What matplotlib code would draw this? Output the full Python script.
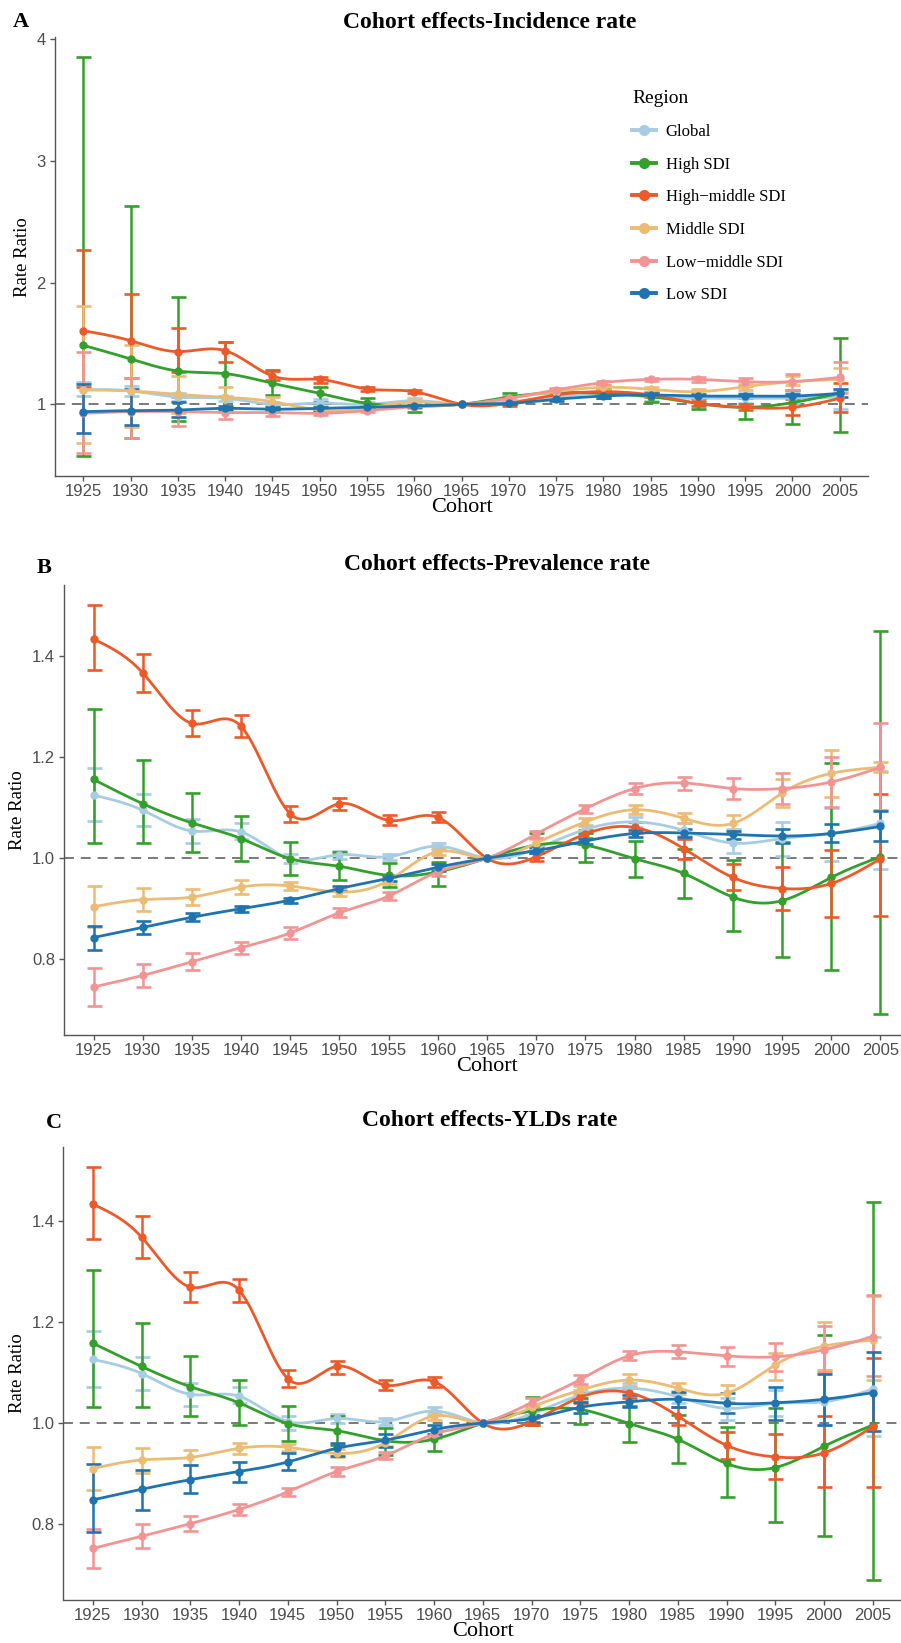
import numpy as np
import matplotlib
matplotlib.use("Agg")
import matplotlib.pyplot as plt
from matplotlib.lines import Line2D

# ukuran gambar dalam piksel
W, H = 901, 1643

cohorts = [1925, 1930, 1935, 1940, 1945, 1950, 1955, 1960, 1965,
           1970, 1975, 1980, 1985, 1990, 1995, 2000, 2005]
regions = ["Global", "High SDI", "High\u2212middle SDI", "Middle SDI",
           "Low\u2212middle SDI", "Low SDI"]
colors = ["#a6cde2", "#33a02c", "#ec5a2a", "#ecbb74", "#f29494", "#1f74b0"]

# --- A: Incidence rate ---
inc_global = [1.12, 1.11, 1.06, 1.05, 1.00, 1.01, 1.00, 1.03, 1.0, 1.02, 1.06, 1.09, 1.06, 1.05, 1.05, 1.05, 1.06]
inc_global_lo = [1.07, 1.07, 1.03, 1.03, 0.98, 0.99, 0.98, 1.01, 1.0, 1.00, 1.04, 1.07, 1.03, 1.02, 1.01, 1.01, 0.96]
inc_global_hi = [1.18, 1.15, 1.09, 1.07, 1.02, 1.04, 1.02, 1.05, 1.0, 1.04, 1.08, 1.11, 1.08, 1.08, 1.09, 1.10, 1.13]
inc_high = [1.485, 1.373, 1.274, 1.252, 1.173, 1.09, 1.008, 0.986, 1.0, 1.06, 1.096, 1.09, 1.063, 1.008, 0.975, 1.014, 1.09]
inc_high_lo = [0.575, 0.72, 0.866, 0.97, 1.077, 1.02, 0.967, 0.94, 1.0, 1.014, 1.07, 1.05, 1.02, 0.96, 0.877, 0.838, 0.77]
inc_high_hi = [3.852, 2.627, 1.885, 1.51, 1.282, 1.145, 1.055, 1.03, 1.0, 1.09, 1.12, 1.13, 1.10, 1.05, 1.063, 1.118, 1.548]
inc_hm = [1.605, 1.523, 1.433, 1.441, 1.233, 1.205, 1.126, 1.104, 1.0, 1.008, 1.077, 1.104, 1.077, 1.008, 0.975, 0.975, 1.049]
inc_hm_lo = [1.14, 1.22, 1.263, 1.351, 1.20, 1.178, 1.11, 1.09, 1.0, 0.99, 1.06, 1.09, 1.06, 0.99, 0.95, 0.912, 0.934]
inc_hm_hi = [2.268, 1.904, 1.63, 1.515, 1.277, 1.227, 1.14, 1.12, 1.0, 1.02, 1.09, 1.12, 1.09, 1.03, 1.00, 1.04, 1.173]
inc_mid = [1.118, 1.11, 1.082, 1.058, 1.022, 0.953, 0.967, 1.02, 1.0, 1.049, 1.104, 1.14, 1.123, 1.104, 1.145, 1.186, 1.205]
inc_mid_lo = [0.68, 0.816, 0.926, 0.95, 0.99, 0.94, 0.95, 0.99, 1.0, 1.03, 1.09, 1.12, 1.10, 1.08, 1.12, 1.16, 1.10]
inc_mid_hi = [1.811, 1.488, 1.23, 1.145, 1.06, 0.97, 0.985, 1.04, 1.0, 1.065, 1.12, 1.16, 1.145, 1.13, 1.17, 1.23, 1.30]
inc_lm = [0.926, 0.94, 0.94, 0.932, 0.932, 0.926, 0.948, 0.98, 1.0, 1.049, 1.118, 1.178, 1.205, 1.205, 1.186, 1.186, 1.222]
inc_lm_lo = [0.597, 0.72, 0.822, 0.877, 0.905, 0.91, 0.935, 0.97, 1.0, 1.035, 1.10, 1.16, 1.19, 1.185, 1.15, 1.12, 1.09]
inc_lm_hi = [1.427, 1.219, 1.06, 0.97, 0.955, 0.945, 0.96, 0.99, 1.0, 1.065, 1.135, 1.195, 1.22, 1.225, 1.22, 1.25, 1.351]
inc_low = [0.94, 0.948, 0.953, 0.967, 0.96, 0.967, 0.975, 0.986, 1.0, 1.008, 1.041, 1.068, 1.077, 1.068, 1.068, 1.068, 1.09]
inc_low_lo = [0.762, 0.83, 0.899, 0.95, 0.95, 0.955, 0.965, 0.975, 1.0, 1.0, 1.03, 1.055, 1.065, 1.055, 1.05, 1.05, 1.06]
inc_low_hi = [1.167, 1.13, 1.022, 0.985, 0.975, 0.98, 0.985, 0.995, 1.0, 1.015, 1.05, 1.08, 1.09, 1.082, 1.085, 1.085, 1.13]

# --- B: Prevalence rate ---
prev_global = [1.125, 1.095, 1.054, 1.052, 0.999, 1.007, 1.003, 1.024, 1.0, 1.019, 1.057, 1.072, 1.055, 1.030, 1.039, 1.049, 1.069]
prev_global_lo = [1.074, 1.063, 1.030, 1.039, 0.991, 0.999, 0.997, 1.016, 1.0, 1.01, 1.05, 1.062, 1.045, 1.011, 1.004, 0.995, 0.978]
prev_global_hi = [1.179, 1.127, 1.077, 1.069, 1.009, 1.015, 1.008, 1.030, 1.0, 1.027, 1.065, 1.082, 1.069, 1.057, 1.072, 1.10, 1.173]
prev_high = [1.156, 1.108, 1.07, 1.039, 0.999, 0.984, 0.966, 0.973, 1.0, 1.026, 1.026, 0.999, 0.97, 0.923, 0.916, 0.962, 1.003]
prev_high_lo = [1.030, 1.030, 1.013, 0.995, 0.966, 0.956, 0.943, 0.945, 1.0, 1.015, 0.993, 0.962, 0.922, 0.856, 0.805, 0.778, 0.691]
prev_high_hi = [1.296, 1.194, 1.129, 1.083, 1.032, 1.013, 0.991, 0.993, 1.0, 1.05, 1.049, 1.034, 1.019, 0.996, 1.032, 1.189, 1.45]
prev_hm = [1.434, 1.367, 1.267, 1.261, 1.088, 1.108, 1.075, 1.081, 1.0, 1.003, 1.048, 1.061, 1.019, 0.962, 0.94, 0.95, 0.999]
prev_hm_lo = [1.372, 1.329, 1.242, 1.240, 1.072, 1.096, 1.065, 1.071, 1.0, 0.995, 1.04, 1.05, 0.999, 0.937, 0.898, 0.884, 0.885]
prev_hm_hi = [1.501, 1.405, 1.294, 1.283, 1.103, 1.120, 1.085, 1.091, 1.0, 1.01, 1.056, 1.072, 1.039, 0.988, 0.983, 1.017, 1.127]
prev_mid = [0.904, 0.918, 0.923, 0.943, 0.945, 0.933, 0.956, 1.013, 1.0, 1.030, 1.072, 1.096, 1.079, 1.069, 1.129, 1.168, 1.18]
prev_mid_lo = [0.863, 0.896, 0.907, 0.930, 0.937, 0.926, 0.948, 1.006, 1.0, 1.022, 1.063, 1.087, 1.069, 1.051, 1.102, 1.121, 1.17]
prev_mid_hi = [0.945, 0.942, 0.940, 0.956, 0.953, 0.940, 0.963, 1.020, 1.0, 1.038, 1.080, 1.105, 1.090, 1.086, 1.156, 1.215, 1.19]
prev_lm = [0.745, 0.768, 0.795, 0.823, 0.852, 0.892, 0.925, 0.973, 1.0, 1.048, 1.098, 1.138, 1.149, 1.138, 1.138, 1.151, 1.18]
prev_lm_lo = [0.707, 0.745, 0.778, 0.811, 0.841, 0.883, 0.917, 0.965, 1.0, 1.041, 1.089, 1.128, 1.136, 1.118, 1.107, 1.102, 1.096]
prev_lm_hi = [0.783, 0.790, 0.812, 0.834, 0.863, 0.901, 0.933, 0.981, 1.0, 1.054, 1.105, 1.148, 1.161, 1.158, 1.168, 1.200, 1.268]
prev_low = [0.843, 0.863, 0.883, 0.90, 0.917, 0.94, 0.96, 0.982, 1.0, 1.015, 1.034, 1.049, 1.050, 1.047, 1.044, 1.049, 1.063]
prev_low_lo = [0.819, 0.850, 0.875, 0.893, 0.911, 0.935, 0.955, 0.975, 1.0, 1.01, 1.029, 1.042, 1.043, 1.039, 1.031, 1.032, 1.034]
prev_low_hi = [0.865, 0.875, 0.891, 0.906, 0.922, 0.945, 0.965, 0.988, 1.0, 1.02, 1.039, 1.056, 1.057, 1.054, 1.057, 1.067, 1.094]

# --- C: YLDs rate ---
yld_global = [1.126, 1.098, 1.057, 1.053, 1.003, 1.009, 1.003, 1.024, 1.0, 1.018, 1.055, 1.069, 1.052, 1.029, 1.039, 1.042, 1.067]
yld_global_lo = [1.071, 1.065, 1.034, 1.040, 0.987, 1.0, 0.996, 1.016, 1.0, 1.01, 1.045, 1.058, 1.04, 1.007, 1.013, 0.996, 0.974]
yld_global_hi = [1.183, 1.131, 1.080, 1.072, 1.013, 1.018, 1.010, 1.032, 1.0, 1.026, 1.065, 1.08, 1.064, 1.05, 1.065, 1.105, 1.171]
yld_high = [1.158, 1.112, 1.072, 1.040, 0.999, 0.985, 0.965, 0.968, 1.0, 1.024, 1.027, 0.999, 0.968, 0.920, 0.912, 0.954, 0.996]
yld_high_lo = [1.031, 1.032, 1.014, 0.996, 0.965, 0.956, 0.937, 0.945, 1.0, 0.996, 0.999, 0.963, 0.920, 0.853, 0.805, 0.776, 0.690]
yld_high_hi = [1.302, 1.197, 1.133, 1.085, 1.034, 1.014, 0.991, 0.987, 1.0, 1.052, 1.049, 1.034, 1.016, 0.993, 1.029, 1.174, 1.438]
yld_hm = [1.433, 1.368, 1.269, 1.263, 1.088, 1.112, 1.075, 1.082, 1.0, 1.003, 1.051, 1.060, 1.014, 0.956, 0.933, 0.941, 0.993]
yld_hm_lo = [1.364, 1.326, 1.240, 1.240, 1.072, 1.097, 1.065, 1.072, 1.0, 0.996, 1.040, 1.05, 0.996, 0.928, 0.890, 0.874, 0.874]
yld_hm_hi = [1.506, 1.409, 1.298, 1.285, 1.105, 1.123, 1.086, 1.092, 1.0, 1.013, 1.060, 1.07, 1.032, 0.983, 0.978, 1.013, 1.128]
yld_mid = [0.910, 0.927, 0.932, 0.950, 0.952, 0.940, 0.961, 1.014, 1.0, 1.031, 1.065, 1.085, 1.069, 1.059, 1.115, 1.152, 1.164]
yld_mid_lo = [0.867, 0.902, 0.917, 0.939, 0.945, 0.932, 0.954, 1.006, 1.0, 1.024, 1.057, 1.073, 1.058, 1.042, 1.086, 1.105, 1.085]
yld_mid_hi = [0.952, 0.950, 0.946, 0.961, 0.959, 0.948, 0.968, 1.022, 1.0, 1.038, 1.073, 1.097, 1.080, 1.075, 1.139, 1.199, 1.251]
yld_lm = [0.752, 0.776, 0.801, 0.829, 0.864, 0.904, 0.935, 0.978, 1.0, 1.040, 1.086, 1.133, 1.141, 1.133, 1.131, 1.145, 1.171]
yld_lm_lo = [0.714, 0.752, 0.786, 0.818, 0.855, 0.895, 0.928, 0.970, 1.0, 1.031, 1.077, 1.124, 1.128, 1.113, 1.103, 1.1, 1.093]
yld_lm_hi = [0.791, 0.800, 0.816, 0.839, 0.871, 0.913, 0.942, 0.986, 1.0, 1.049, 1.095, 1.142, 1.154, 1.150, 1.159, 1.191, 1.253]
yld_low = [0.848, 0.869, 0.888, 0.904, 0.923, 0.950, 0.966, 0.987, 1.0, 1.009, 1.031, 1.042, 1.047, 1.039, 1.040, 1.047, 1.060]
yld_low_lo = [0.785, 0.829, 0.861, 0.884, 0.907, 0.935, 0.953, 0.979, 1.0, 1.003, 1.019, 1.031, 1.032, 1.019, 1.007, 0.996, 0.985]
yld_low_hi = [0.919, 0.908, 0.917, 0.923, 0.940, 0.961, 0.978, 0.997, 1.0, 1.015, 1.042, 1.055, 1.062, 1.060, 1.071, 1.097, 1.141]

SERIF = "Liberation Serif"
SANS = "Liberation Sans"


def natural_spline(x, y, n=600):
    # kurva halus (natural cubic spline) yang melewati semua titik
    x = np.asarray(x, float)
    y = np.asarray(y, float)
    k = len(x)
    h = np.diff(x)
    A = np.zeros((k, k))
    b = np.zeros(k)
    A[0, 0] = A[-1, -1] = 1.0
    for i in range(1, k - 1):
        A[i, i - 1] = h[i - 1]
        A[i, i] = 2 * (h[i - 1] + h[i])
        A[i, i + 1] = h[i]
        b[i] = 6 * ((y[i + 1] - y[i]) / h[i] - (y[i] - y[i - 1]) / h[i - 1])
    M = np.linalg.solve(A, b)
    xs = np.linspace(x[0], x[-1], n)
    idx = np.clip(np.searchsorted(x, xs) - 1, 0, k - 2)
    x0, x1 = x[idx], x[idx + 1]
    hh = x1 - x0
    t0, t1 = x1 - xs, xs - x0
    ys = (M[idx] * t0 ** 3 + M[idx + 1] * t1 ** 3) / (6 * hh) \
        + (y[idx] / hh - M[idx] * hh / 6) * t0 \
        + (y[idx + 1] / hh - M[idx + 1] * hh / 6) * t1
    return xs, ys


def px_axes(left, top, right, bottom):
    return [left / W, 1 - bottom / H, (right - left) / W, (bottom - top) / H]


def draw_panel(ax, series, ylim, yticks, ylabels):
    ax.axhline(1, color="#555555", lw=1.1, ls=(0, (6.5, 4.5)), zorder=1)
    x = np.array(cohorts)
    for (v, lo, hi), c in zip(series, colors):
        v, lo, hi = np.array(v), np.array(lo), np.array(hi)
        m = hi > lo
        ax.errorbar(x[m], v[m], yerr=[v[m] - lo[m], hi[m] - v[m]], fmt="none",
                    ecolor=c, elinewidth=1.8, capsize=5.4, capthick=1.9, zorder=2)
        xs, ys = natural_spline(x, v)
        ax.plot(xs, ys, color=c, lw=2.0, zorder=3)
        ax.plot(x, v, "o", color=c, ms=5, zorder=3)
    ax.set_xlim(1922, 2008)
    ax.set_ylim(*ylim)
    ax.set_xticks(cohorts)
    ax.set_xticklabels([str(c) for c in cohorts], fontfamily=SANS, fontsize=12, color="#4d4d4d")
    ax.set_yticks(yticks)
    ax.set_yticklabels(ylabels, fontfamily=SANS, fontsize=12, color="#4d4d4d")
    for s in ["top", "right"]:
        ax.spines[s].set_visible(False)
    for s in ["left", "bottom"]:
        ax.spines[s].set_color("#555555")
        ax.spines[s].set_linewidth(1.0)
    ax.tick_params(axis="both", length=3.5, width=1.0, color="#555555")
    ax.tick_params(axis="x", pad=2.5)
    ax.tick_params(axis="y", pad=3)
    ax.set_xlabel("Cohort", fontfamily=SERIF, fontsize=16, labelpad=-1)
    ax.set_ylabel("Rate Ratio", fontfamily=SERIF, fontsize=13.5, labelpad=4)


fig = plt.figure(figsize=(W / 100, H / 100), dpi=100)

ax_a = fig.add_axes(px_axes(55, 37.3, 868, 476))
draw_panel(ax_a,
           [(inc_global, inc_global_lo, inc_global_hi),
            (inc_high, inc_high_lo, inc_high_hi),
            (inc_hm, inc_hm_lo, inc_hm_hi),
            (inc_mid, inc_mid_lo, inc_mid_hi),
            (inc_lm, inc_lm_lo, inc_lm_hi),
            (inc_low, inc_low_lo, inc_low_hi)],
           (0.411, 4.016), [1, 2, 3, 4], ["1", "2", "3", "4"])

ax_b = fig.add_axes(px_axes(64, 585, 910, 1035))
draw_panel(ax_b,
           [(prev_global, prev_global_lo, prev_global_hi),
            (prev_high, prev_high_lo, prev_high_hi),
            (prev_hm, prev_hm_lo, prev_hm_hi),
            (prev_mid, prev_mid_lo, prev_mid_hi),
            (prev_lm, prev_lm_lo, prev_lm_hi),
            (prev_low, prev_low_lo, prev_low_hi)],
           (0.650, 1.541), [0.8, 1.0, 1.2, 1.4], ["0.8", "1.0", "1.2", "1.4"])

ax_c = fig.add_axes(px_axes(63.5, 1147, 902, 1600))
draw_panel(ax_c,
           [(yld_global, yld_global_lo, yld_global_hi),
            (yld_high, yld_high_lo, yld_high_hi),
            (yld_hm, yld_hm_lo, yld_hm_hi),
            (yld_mid, yld_mid_lo, yld_mid_hi),
            (yld_lm, yld_lm_lo, yld_lm_hi),
            (yld_low, yld_low_lo, yld_low_hi)],
           (0.650, 1.546), [0.8, 1.0, 1.2, 1.4], ["0.8", "1.0", "1.2", "1.4"])

# judul dan label panel
def ftext(x, y, s, **kw):
    fig.text(x / W, 1 - y / H, s, ha="center", va="center", fontfamily=SERIF,
             fontweight="bold", **kw)

ftext(490, 22, "Cohort effects-Incidence rate", fontsize=17)
ftext(497, 564, "Cohort effects-Prevalence rate", fontsize=17)
ftext(490, 1121, "Cohort effects-YLDs rate", fontsize=17)
ftext(21, 22, "A", fontsize=16)
ftext(44, 568, "B", fontsize=16)
ftext(54, 1123, "C", fontsize=16)

# legenda
handles = [Line2D([0], [0], color=c, lw=2.8, marker="o", ms=7) for c in colors]
leg = ax_a.legend(handles, regions, title="Region", loc="upper left",
                  bbox_to_anchor=(624 / W, 1 - 82 / H), bbox_transform=fig.transFigure,
                  frameon=False, borderpad=0, handlelength=1.4, handletextpad=0.6,
                  labelspacing=1.0, alignment="left",
                  prop={"family": SERIF, "size": 12},
                  title_fontproperties={"family": SERIF, "size": 14})

fig.savefig("out.png", dpi=100)
